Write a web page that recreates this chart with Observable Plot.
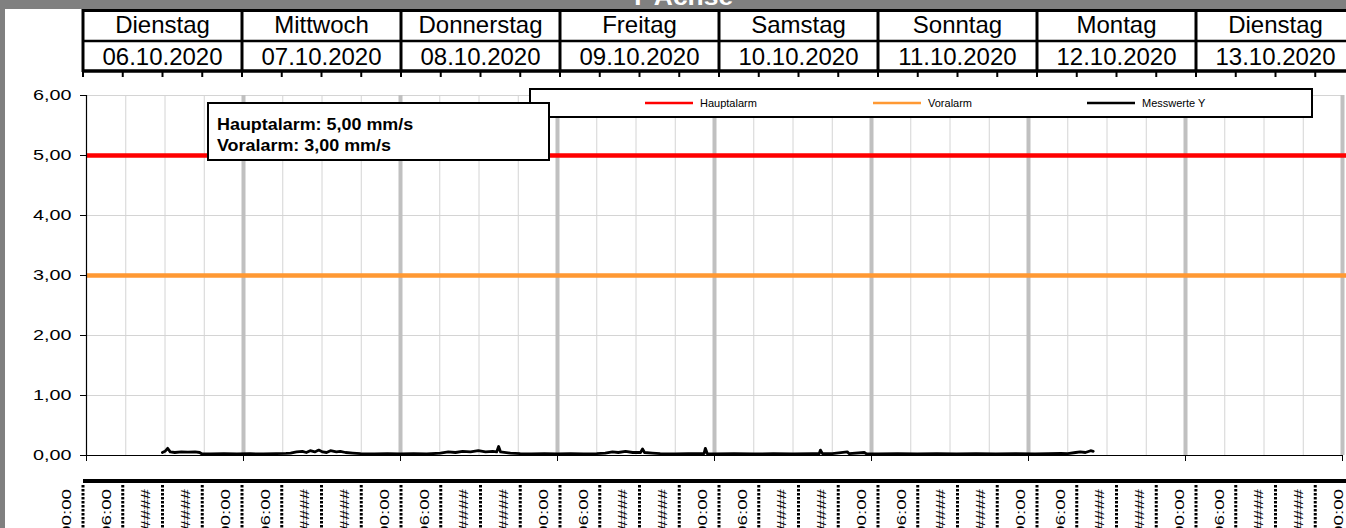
<!DOCTYPE html>
<html><head><meta charset="utf-8">
<script src="https://cdn.jsdelivr.net/npm/d3@7"></script>
<script src="https://cdn.jsdelivr.net/npm/@observablehq/plot@0.6"></script>
<style>
html,body{margin:0;padding:0;background:#fff;}
#chart{position:relative;width:1346px;height:528px;overflow:hidden;}
svg{font-family:"Liberation Sans",Arial,sans-serif;}
</style></head><body><div id="chart"></div>
<script>
// ---------- data ----------
const titel = "Y-Achse";
const wochentage = ["Dienstag","Mittwoch","Donnerstag","Freitag","Samstag","Sonntag","Montag","Dienstag"];
const datumLabels = ["06.10.2020","07.10.2020","08.10.2020","09.10.2020","10.10.2020","11.10.2020","12.10.2020","13.10.2020"];
const yTicks = [0,1,2,3,4,5,6];
const hauptalarm = 5.00;
const voralarm = 3.00;
const serienNamen = ["Hauptalarm","Voralarm","Messwerte Y"];
const serienFarben = ["#ff0000","#ff9933","#000000"];
const infoZeilen = ["Hauptalarm: 5,00 mm/s","Voralarm: 3,00 mm/s"];
const zeitMuster = ["00:00","06:00","####","####"];
// Messzeitpunkte in Stunden ab 06.10.2020 00:00
const messStunden = [
 11.6,12.0,12.4,12.8,13.5,14.5,15.5,16.6,17.3,17.6,19,21,23,
 25,27,29,30.5,31.2,32.1,33.0,33.6,34.2,34.9,35.5,36.1,36.7,37.3,38.2,38.8,39.6,40.7,41.9,44,46,
 48,50,52,54.1,55.3,56.4,57.5,58.7,59.9,61.0,62.1,62.7,63.0,63.3,64.8,66.3,68,70,
 72,74,76,78,79.3,80.4,81.3,82.4,83.5,84.7,85.0,85.3,86.5,87.7,90,92,94.4,94.6,94.9,
 96,99,102,105,108,111,112.0,112.2,112.5,114,116.3,116.6,118.9,119.2,
 121,124,127,130,133,136,139,142,
 145,147,148.9,150,151.2,151.9,152.7,153.5,153.9];
const messWerte = [
 0.05,0.07,0.12,0.06,0.05,0.06,0.055,0.06,0.05,0.03,0.025,0.03,0.025,
 0.03,0.025,0.03,0.035,0.04,0.06,0.07,0.05,0.08,0.06,0.09,0.06,0.05,0.08,0.06,0.07,0.05,0.04,0.03,0.025,0.03,
 0.025,0.03,0.025,0.04,0.06,0.05,0.07,0.06,0.08,0.06,0.07,0.06,0.15,0.06,0.04,0.03,0.025,0.03,
 0.025,0.03,0.025,0.03,0.04,0.06,0.05,0.07,0.05,0.05,0.11,0.05,0.04,0.03,0.025,0.03,0.03,0.12,0.03,
 0.025,0.03,0.025,0.03,0.025,0.03,0.03,0.09,0.03,0.03,0.06,0.03,0.05,0.03,
 0.025,0.03,0.025,0.03,0.025,0.03,0.025,0.03,
 0.025,0.03,0.035,0.03,0.05,0.06,0.05,0.08,0.07];

// ---------- derived tables ----------
const start = new Date(Date.UTC(2020,9,6));
const ende = new Date(Date.UTC(2020,9,14));
const mess = messStunden.map((h,i)=>({t:new Date(+start + h*3600e3), v:messWerte[i]}));
const mitternacht = d3.utcDay.range(start, d3.utcDay.offset(ende,1));
const sechsStunden = d3.utcHour.every(6).range(start, ende).filter(d=>d.getUTCHours()!==0);
const fmt = d => d.toFixed(2).replace(".", ",");
const rechts = d3.utcHour.offset(ende, 1);

const plot = Plot.plot({
  width:1346, height:528,
  marginLeft:86, marginRight:4, marginTop:95, marginBottom:73,
  style:{fontFamily:'"Liberation Sans",Arial,sans-serif', fontSize:"15px", color:"#000", background:"transparent", overflow:"visible"},
  x:{type:"utc", domain:[start,ende], ticks:mitternacht, tickFormat:()=>"", tickSize:6, label:null},
  y:{domain:[0,6], ticks:yTicks, tickFormat:fmt, tickSize:6, tickPadding:9, label:null},
  marks:[
    Plot.ruleY(yTicks, {stroke:"#d4d4d4", strokeWidth:1, strokeOpacity:1}),
    Plot.ruleX(sechsStunden, {stroke:"#d4d4d4", strokeWidth:1, strokeOpacity:1}),
    Plot.ruleX(mitternacht.slice(1), {stroke:"#c0c0c0", strokeWidth:4, strokeOpacity:1}),
    Plot.ruleY([hauptalarm], {x1:start, x2:rechts, stroke:serienFarben[0], strokeWidth:4.5, strokeOpacity:1}),
    Plot.ruleY([voralarm], {x1:start, x2:rechts, stroke:serienFarben[1], strokeWidth:4.5, strokeOpacity:1}),
    Plot.ruleX([start], {stroke:"#000", strokeWidth:1.2, strokeOpacity:1}),
    Plot.ruleY([0], {stroke:"#000", strokeWidth:1.2, strokeOpacity:1}),
    Plot.line(mess, {x:"t", y:"v", stroke:serienFarben[2], strokeWidth:2.8, strokeLinejoin:"round"})
  ]
});
document.getElementById("chart").appendChild(plot);
const svg = d3.select(plot);

function dehnen(sel, faktor){
  sel.each(function(){
    const w = this.getComputedTextLength();
    this.setAttribute("textLength", (w*faktor).toFixed(1));
    this.setAttribute("lengthAdjust","spacingAndGlyphs");
  });
}
// stretch y tick labels
dehnen(svg.selectAll("g[aria-label='y-axis tick label'] text, g[aria-label='y-axis'] text"), 1.32);

// ---------- frame decoration ----------
svg.append("rect").attr("x",0).attr("y",0).attr("width",1346).attr("height",9).attr("fill","#808080");
svg.append("rect").attr("x",0).attr("y",0).attr("width",5).attr("height",528).attr("fill","#808080");
const tt = svg.append("text").attr("x",681).attr("y",5).attr("text-anchor","middle")
  .attr("font-weight","bold").attr("font-size",24).attr("fill","#fff").text(titel);
dehnen(tt, 1.1);

// ---------- header table (sheet columns) ----------
const hx = d3.scaleLinear().domain([0,8]).range([83, 83+8*159]);
const kopf = svg.append("g").attr("stroke","#000");
kopf.append("line").attr("x1",hx(0)).attr("x2",1346).attr("y1",10.5).attr("y2",10.5).attr("stroke-width",3);
kopf.append("line").attr("x1",hx(0)).attr("x2",1346).attr("y1",41).attr("y2",41).attr("stroke-width",2.5);
kopf.append("line").attr("x1",hx(0)).attr("x2",1346).attr("y1",71).attr("y2",71).attr("stroke-width",3.5);
kopf.selectAll("line.v").data(d3.range(0,9)).join("line").attr("class","v")
  .attr("x1",d=>hx(d)).attr("x2",d=>hx(d)).attr("y1",9).attr("y2",72).attr("stroke-width",3);
kopf.selectAll("line.q").data(d3.range(0,33)).join("line").attr("class","q")
  .attr("x1",d=>hx(d/4)).attr("x2",d=>hx(d/4)).attr("y1",71).attr("y2",77).attr("stroke-width",2);
const kt = svg.append("g").attr("font-size",24).attr("text-anchor","middle").attr("fill","#000");
kt.selectAll("text.w").data(wochentage).join("text").attr("class","w")
  .attr("x",(d,i)=>hx(i+0.5)).attr("y",33).text(d=>d);
kt.selectAll("text.d").data(datumLabels).join("text").attr("class","d")
  .attr("x",(d,i)=>hx(i+0.5)).attr("y",65).text(d=>d);

// ---------- bottom time labels (sheet columns) ----------
const zeitLabels = d3.range(0,8).flatMap(()=>zeitMuster).concat([zeitMuster[0]]);
const unten = svg.append("g");
unten.append("line").attr("x1",hx(0)).attr("x2",1346).attr("y1",481).attr("y2",481).attr("stroke","#000").attr("stroke-width",4);
unten.selectAll("line.s").data(d3.range(0,32)).join("line").attr("class","s")
  .attr("x1",d=>hx(d/4)).attr("x2",d=>hx(d/4)).attr("y1",485).attr("y2",528)
  .attr("stroke","#000").attr("stroke-width",3).attr("stroke-dasharray","2.5,1.5");
unten.selectAll("text").data(zeitLabels).join("text")
  .attr("transform",(d,i)=>`translate(${hx((i-0.5)/4)+3},489) rotate(-90) scale(1.39,1)`)
  .attr("text-anchor","end").attr("dy","0.35em").attr("font-size",13.5).attr("fill","#000").text(d=>d);

// ---------- legend ----------
const leg = svg.append("g").attr("text-anchor","start");
leg.append("rect").attr("x",530).attr("y",89).attr("width",782).attr("height",28)
  .attr("fill","#fff").attr("stroke","#000").attr("stroke-width",2);
const legX = [645, 873, 1087];
serienNamen.forEach((n,i)=>{
  leg.append("line").attr("x1",legX[i]).attr("x2",legX[i]+48).attr("y1",103).attr("y2",103)
    .attr("stroke",serienFarben[i]).attr("stroke-width",2.5);
  leg.append("text").attr("x",legX[i]+55).attr("y",107).attr("font-size",11).attr("fill","#000")
    .attr("text-anchor","start").text(n);
});

// ---------- info box ----------
const info = svg.append("g").attr("text-anchor","start");
info.append("rect").attr("x",208).attr("y",103).attr("width",341).attr("height",57)
  .attr("fill","#fff").attr("stroke","#000").attr("stroke-width",2);
const it = info.selectAll("text").data(infoZeilen).join("text")
  .attr("x",217).attr("y",(d,i)=>130+i*21).attr("font-size",16).attr("font-weight","bold")
  .attr("text-anchor","start").attr("fill","#000").text(d=>d);
dehnen(it, 1.12);
</script></body></html>
